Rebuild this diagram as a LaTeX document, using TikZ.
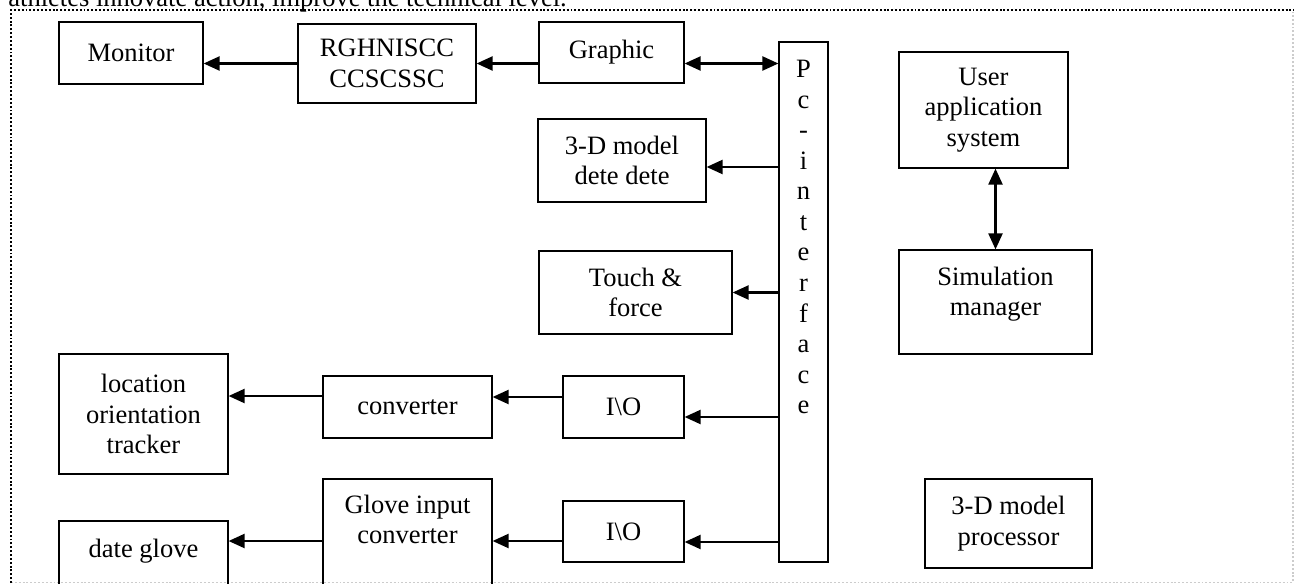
\documentclass[tikz,border=0pt]{standalone}
\usepackage{fontspec}
\setmainfont{Liberation Serif}
\usetikzlibrary{arrows.meta}

\begin{document}
\begin{tikzpicture}[x=0.02cm, y=-0.02cm] % 1 unit = 1 px of the layout, y grows downwards
		% Styles
		\tikzset{
			box/.style={draw, line width=0.7pt, inner sep=2pt, align=center, font=\fontsize{15.1pt}{17.4pt}\selectfont},
			arrow/.style={-{Triangle[length=0.32cm, width=0.28cm]}, line width=1.25pt},
			twoway/.style={{Triangle[length=0.32cm, width=0.28cm]}-{Triangle[length=0.32cm, width=0.28cm]}, line width=1.25pt},
			frame/.style={line width=0.7pt, dash pattern=on 1.1pt off 1.1pt}
		}
		\useasboundingbox (0,0) rectangle (1294,584);
		
		% Line of the text above, cut off at the top
		\node[anchor=base west, inner sep=0, font=\fontsize{15.1pt}{17.4pt}\selectfont] (Lead) at (8,7) {athletes innovate action, improve the technical level.};
		
		% Dotted frame
		\draw[frame, gray!40] (11,582.5) -- (1293,582.5) -- (1293,12);
		\draw[frame] (11,583) -- (11,10) -- (1294,10);
		
		% Top row
		\node[box, minimum width=2.88cm, minimum height=1.24cm] (Monitor) at (131,53) {Monitor};
		\node[box, minimum width=3.56cm, minimum height=1.58cm] (Rgh) at (387,63.5) {RGHNISCC\\CCSCSSC};
		\node[box, minimum width=2.90cm, minimum height=1.22cm] (Graphic) at (611.5,52.5) {Graphic};
		
		% Pc-interface bar
		\node[box, minimum width=0.98cm, minimum height=10.40cm, text depth=2.6cm] (Pc) at (803.5,302) {P\\c\\-\\i\\n\\t\\e\\r\\f\\a\\c\\e};
		
		% Output devices next to the bar
		\node[box, minimum width=3.36cm, minimum height=1.66cm] (Dete) at (622,160.5) {3-D model\\dete dete};
		\node[box, minimum width=3.86cm, minimum height=1.66cm] (Touch) at (635.5,292.5) {Touch \&\\force};
		\node[box, minimum width=2.42cm, minimum height=1.24cm] (IOa) at (623.5,407) {I\textbackslash O};
		\node[box, minimum width=2.42cm, minimum height=1.22cm] (IOb) at (623.5,531.5) {I\textbackslash O};
		
		% Tracker and glove chain
		\node[box, minimum width=3.38cm, minimum height=2.40cm] (Tracker) at (143.5,414) {location\\orientation\\tracker};
		\node[box, minimum width=3.38cm, minimum height=1.24cm] (Conv) at (407.5,407) {converter};
		\node[box, minimum width=3.38cm, minimum height=2.42cm, text depth=0.8cm] (Glove) at (407.5,539.5) {Glove input\\converter};
		\node[box, minimum width=3.38cm, minimum height=1.48cm, text depth=0.4cm] (DateGlove) at (143.5,558) {date glove};
		
		% Right column
		\node[box, minimum width=3.38cm, minimum height=2.32cm] (User) at (983.5,110) {User\\application\\system};
		\node[box, minimum width=3.86cm, minimum height=2.08cm, text depth=0.42cm] (Sim) at (995.5,302) {Simulation\\manager};
		\node[box, minimum width=3.34cm, minimum height=1.78cm] (Proc) at (1008.5,523.5) {3-D model\\processor};
		
		% Arrow ends that sit off the box centres
		\coordinate (DeteIn) at ([yshift=-0.13cm]Dete.east);
		\coordinate (IOaIn) at ([yshift=-0.20cm]IOa.east);
		\coordinate (ConvIn) at ([yshift=0.20cm]Conv.east);
		\coordinate (TrackerIn) at ([yshift=0.36cm]Tracker.east);
		\coordinate (IObIn) at ([yshift=-0.21cm]IOb.east);
		\coordinate (GloveIn) at ([yshift=-0.03cm]Glove.east);
		\coordinate (DateIn) at ([yshift=0.34cm]DateGlove.east);
		
		% Top row arrows
		\draw[arrow] (Rgh.west) -- (Rgh.west -| Monitor.east);
		\draw[arrow] (Graphic.west |- Rgh.east) -- (Rgh.east);
		\draw[twoway] (Graphic.east |- Rgh.east) -- (Pc.west |- Rgh.east);
		
		% From the bar
		\draw[arrow] (Pc.west |- DeteIn) -- (DeteIn);
		\draw[arrow] (Pc.west |- Touch.east) -- (Touch.east);
		\draw[arrow] (Pc.west |- IOaIn) -- (IOaIn);
		\draw[arrow] (Pc.west |- IObIn) -- (IObIn);
		
		% Chains to the left
		\draw[arrow] (IOa.west |- ConvIn) -- (ConvIn);
		\draw[arrow] (Conv.west |- TrackerIn) -- (TrackerIn);
		\draw[arrow] (IOb.west |- GloveIn) -- (GloveIn);
		\draw[arrow] (Glove.west |- DateIn) -- (DateIn);
		
		% User application <-> Simulation manager
		\draw[twoway] (Sim.north) -- (Sim.north |- User.south);
		
	\end{tikzpicture}
\end{document}
